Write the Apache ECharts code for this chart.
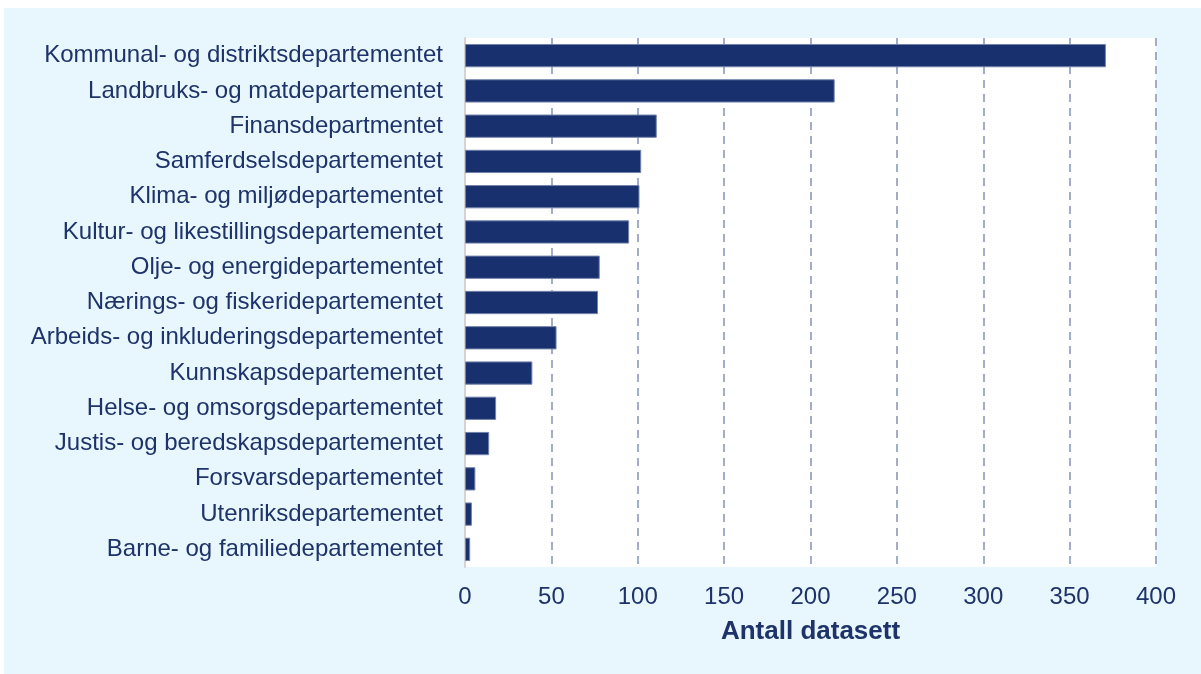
<!DOCTYPE html>
<html><head><meta charset="utf-8">
<script src="https://cdn.jsdelivr.net/npm/echarts@6/dist/echarts.min.js"></script>
<style>html,body{margin:0;padding:0;background:#fff;}#c{width:1201px;height:674px;}</style>
</head><body><div id="c"></div>
<script>
const categories = [
  "Kommunal- og distriktsdepartementet",
  "Landbruks- og matdepartementet",
  "Finansdepartmentet",
  "Samferdselsdepartementet",
  "Klima- og miljødepartementet",
  "Kultur- og likestillingsdepartementet",
  "Olje- og energidepartementet",
  "Nærings- og fiskeridepartementet",
  "Arbeids- og inkluderingsdepartementet",
  "Kunnskapsdepartementet",
  "Helse- og omsorgsdepartementet",
  "Justis- og beredskapsdepartementet",
  "Forsvarsdepartementet",
  "Utenriksdepartementet",
  "Barne- og familiedepartementet"
];
const values = [371, 214, 111, 102, 101, 95, 78, 77, 53, 39, 18, 14, 6, 4, 3];
const xAxisName = "Antall datasett";

const textColor = "#1d3369";
const chart = echarts.init(document.getElementById('c'), null, {renderer:'canvas'});
chart.setOption({
  animation: false,
  backgroundColor: '#ffffff',
  graphic: [{
    type: 'rect', z: -10, silent: true,
    shape: {x: 4, y: 8, width: 1197, height: 666},
    style: {fill: '#e8f6fd'}
  }],
  grid: {left: 465, right: 45, top: 38, bottom: 107, show: true, backgroundColor: '#ffffff', borderWidth: 0},
  xAxis: {
    type: 'value', min: 0, max: 400, interval: 50,
    name: xAxisName, nameLocation: 'middle', nameGap: 52,
    nameTextStyle: {color: textColor, fontFamily: 'Liberation Sans, Arial', fontSize: 26, fontWeight: 'bold'},
    axisLine: {show: false}, axisTick: {show: false},
    axisLabel: {color: textColor, fontFamily: 'Liberation Sans, Arial', fontSize: 24, margin: 18},
    splitLine: {show: true, lineStyle: {color: '#a3adc8', type: [8, 6], width: 2}}
  },
  yAxis: {
    type: 'category', data: categories, inverse: true,
    axisLine: {show: true, lineStyle: {color: '#d4d4d4', width: 2}},
    axisTick: {show: false},
    axisLabel: {color: textColor, fontFamily: 'Liberation Sans, Arial', fontSize: 24, margin: 22}
  },
  series: [{
    type: 'bar', data: values, barCategoryGap: '34%',
    itemStyle: {color: '#19306e', borderColor: '#7283ab', borderWidth: 1}
  }]
});
</script></body></html>
